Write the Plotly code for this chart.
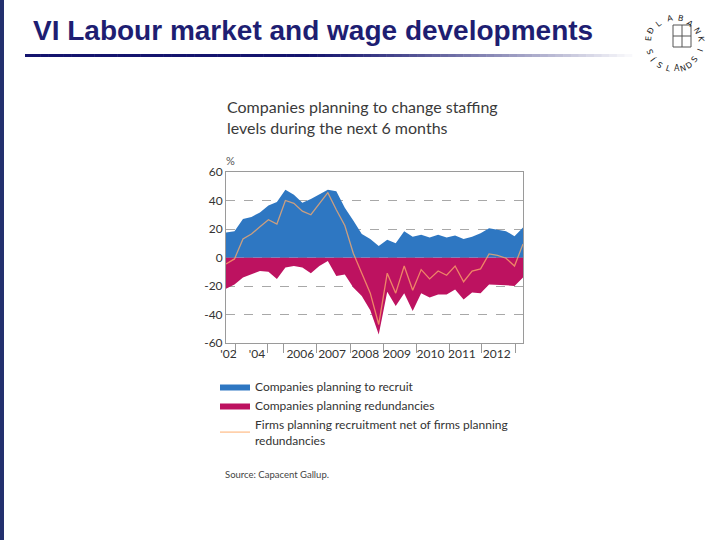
import math
import plotly.graph_objects as go

# ---- data ----
recruit = [17.5, 18.5, 27, 28.5, 31.5, 36.5, 39, 47.5, 44, 38.5, 41, 44, 47.5, 46.5,
           35, 26, 16.5, 13, 8, 12.5, 10, 18.5, 14.5, 16, 14, 16, 14, 15.5, 13, 14.5,
           17, 20.5, 19.5, 18.5, 15, 21]
redundancies = [-22, -19, -14, -12, -9.5, -10, -15, -7, -6, -7, -11, -6, -2.5, -13,
                -12, -21, -27, -37, -54, -24, -34, -25, -37.5, -25, -28, -26, -26, -22.5,
                -29.5, -24.5, -25, -19, -19, -19.5, -20, -14]
net = [-4.5, -1, 13, 16.5, 21.5, 26.5, 23.5, 40, 38, 32.5, 30, 38, 45.5, 33.5,
       22.5, 3, -11, -25, -47, -11, -25, -6, -23, -8.5, -15, -9.5, -12.5, -6, -17,
       -9.5, -8, 2.5, 1.5, -0.5, -6, 9.5]
obs = list(range(len(recruit)))

year_labels = ["'02", "'04", "2006", "2007", "2008", "2009", "2010", "2011", "2012"]
year_label_pos = [0.3, 3.65, 8.76, 12.5, 16.4, 20.15, 24.1, 27.8, 31.9]
year_breaks = [1.1, 4.9, 6.8, 10.72, 14.65, 18.58, 22.43, 26.35, 30.16, 34.1]
y_ticks = [-60, -40, -20, 0, 20, 40, 60]
y_ticktext = ["-60", "-40", "-20", "0", "20", "40", "60"]

BLUE = "#2E77C2"
MAGENTA = "#BD1260"
NETCOL = "rgba(255,172,105,0.75)"
NAVY = "#1E1E72"
FONT = "Lato"

# plot-area pixel frame
L, R, T, B = 226, 523, 172, 343
W, H = R - L, B - T
def px(x):
    return (x - L) / W
def py(y):
    return (B - y) / H

fig = go.Figure()
fig.add_trace(go.Scatter(x=obs, y=redundancies, mode="lines", fill="tozeroy",
                         line=dict(width=0, color=MAGENTA), fillcolor=MAGENTA,
                         name="Companies planning redundancies", legendrank=2,
                         hoverinfo="skip"))
fig.add_trace(go.Scatter(x=obs, y=recruit, mode="lines", fill="tozeroy",
                         line=dict(width=0, color=BLUE), fillcolor=BLUE,
                         name="Companies planning to recruit", legendrank=1,
                         hoverinfo="skip"))
fig.add_trace(go.Scatter(x=obs, y=net, mode="lines",
                         line=dict(width=1.3, color=NETCOL),
                         name="Firms planning recruitment net of firms planning<br>redundancies",
                         legendrank=3, hoverinfo="skip"))

fig.update_layout(
    width=720, height=540,
    margin=dict(l=L, r=720 - R, t=T, b=540 - B),
    paper_bgcolor="white", plot_bgcolor="white",
    font=dict(family=FONT, color="#333333", size=12),
    showlegend=True,
    legend=dict(x=px(215), y=py(372), xanchor="left", yanchor="top",
                font=dict(family=FONT, size=12, color="#333333"),
                bgcolor="rgba(0,0,0,0)", traceorder="normal"),
    xaxis=dict(range=[0, len(obs) - 1], tickmode="array", tickvals=year_label_pos,
               ticktext=year_labels, ticks="", showgrid=False, zeroline=False,
               showline=True, mirror=True, linecolor="#9a9a9a", linewidth=1,
               tickfont=dict(family=FONT, size=12, color="#333333"),
               minor=dict(tickmode="array", tickvals=year_breaks, ticks="outside",
                          ticklen=9, tickcolor="#9a9a9a", tickwidth=1, showgrid=False)),
    yaxis=dict(range=[-60, 60], tickmode="array", tickvals=y_ticks, ticktext=y_ticktext,
               ticks="", showgrid=True, gridcolor="#a8a8a8", griddash="dash", gridwidth=1,
               zeroline=False, showline=True, mirror=True, linecolor="#9a9a9a",
               linewidth=1, tickfont=dict(family=FONT, size=12, color="#333333")),
)

annotations = [
    dict(text="Companies planning to change staffing<br>levels during the next 6 months",
         x=px(225), y=py(95), xanchor="left", yanchor="top", align="left",
         font=dict(family=FONT, size=16, color="#3a3a3a")),
    dict(text="%", x=px(224), y=py(160), xanchor="left", yanchor="middle",
         font=dict(family=FONT, size=11, color="#555555")),
    dict(text="Source: Capacent Gallup.", x=px(223), y=py(474), xanchor="left",
         yanchor="middle", font=dict(family=FONT, size=9.5, color="#444444")),
    dict(text="<b>VI Labour market and wage developments</b>", x=px(31), y=py(30),
         xanchor="left", yanchor="middle",
         font=dict(family="Liberation Sans", size=28, color=NAVY)),
]

# seal (logo) letters around a circle
cx, cy, rad = 682, 36, 26
top_word = "SEÐLABANKI"
for i, ch in enumerate(top_word):
    th = 200 - i * (220 / (len(top_word) - 1))
    t = math.radians(th)
    annotations.append(dict(text=ch, x=px(cx + rad * math.cos(t)), y=py(cy - rad * math.sin(t)),
                            textangle=90 - th, showarrow=False,
                            font=dict(family="DejaVu Sans", size=8, color="#222222")))
bot_word = "ÍSLANDS"
for i, ch in enumerate(bot_word):
    th = 218 + i * (104 / (len(bot_word) - 1))
    t = math.radians(th)
    annotations.append(dict(text=ch, x=px(cx + rad * math.cos(t)), y=py(cy - rad * math.sin(t)),
                            textangle=-90 - th, showarrow=False,
                            font=dict(family="DejaVu Sans", size=8, color="#222222")))
for a in annotations:
    a.setdefault("showarrow", False)
    a["xref"] = "paper"
    a["yref"] = "paper"
fig.update_layout(annotations=annotations)

shapes = []
# left navy stripe
shapes.append(dict(type="rect", xref="paper", yref="paper", x0=px(0), x1=px(4),
                   y0=py(540), y1=py(0), fillcolor="#23306E", line=dict(width=0)))
# gradient underline
n = 80
x_start, x_end = 25, 640
for i in range(n):
    f = i / (n - 1)
    if f < 0.45:
        k = 0.0
    else:
        k = ((f - 0.45) / 0.55) ** 1.2
    r = int(20 + (255 - 20) * k)
    g = int(20 + (255 - 20) * k)
    b = int(110 + (255 - 110) * k)
    xa = x_start + (x_end - x_start) * i / n
    xb = x_start + (x_end - x_start) * (i + 1) / n + 0.5
    shapes.append(dict(type="rect", xref="paper", yref="paper", x0=px(xa), x1=px(xb),
                       y0=py(57), y1=py(54), fillcolor=f"rgb({r},{g},{b})",
                       line=dict(width=0)))
# seal inner emblem
shapes.append(dict(type="rect", xref="paper", yref="paper", x0=px(673), x1=px(691),
                   y0=py(47), y1=py(25), fillcolor="rgba(0,0,0,0)",
                   line=dict(width=1, color="#555555")))
shapes.append(dict(type="line", xref="paper", yref="paper", x0=px(682), x1=px(682),
                   y0=py(47), y1=py(25), line=dict(width=1, color="#555555")))
shapes.append(dict(type="line", xref="paper", yref="paper", x0=px(673), x1=px(691),
                   y0=py(36), y1=py(36), line=dict(width=1, color="#555555")))
fig.update_layout(shapes=shapes)

fig.write_html("out.html", post_script="document.body.style.margin='0';",
               config={"displayModeBar": False})
